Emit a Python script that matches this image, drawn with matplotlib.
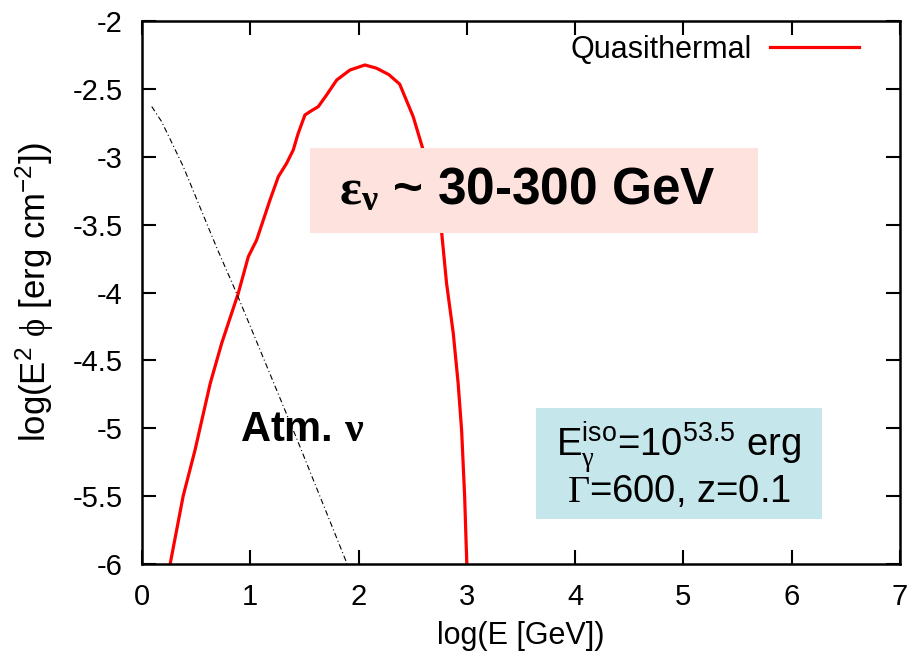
import matplotlib
matplotlib.use('Agg')
import matplotlib.pyplot as plt
from matplotlib.patches import Rectangle

plt.rcParams['font.family'] = ['Liberation Sans', 'DejaVu Sans']
plt.rcParams['mathtext.fontset'] = 'custom'
plt.rcParams['mathtext.rm'] = 'Liberation Sans'
plt.rcParams['mathtext.it'] = 'Liberation Sans:italic'
plt.rcParams['mathtext.bf'] = 'Liberation Sans:bold'
plt.rcParams['mathtext.sf'] = 'Liberation Serif'
plt.rcParams['mathtext.cal'] = 'Liberation Serif:bold'

# quasithermal neutrino spectrum
qt_logE = [0.26, 0.38, 0.49, 0.63, 0.736, 0.797, 0.889, 0.982, 1.059, 1.182, 1.259,
           1.336, 1.397, 1.443, 1.505, 1.567, 1.628, 1.705, 1.798, 1.921, 2.059,
           2.167, 2.28, 2.38, 2.505, 2.597, 2.767, 2.813, 2.875, 2.92, 2.952, 2.98, 3.0]
qt_flux = [-6.0, -5.5, -5.16, -4.67, -4.374, -4.227, -4.006, -3.736, -3.613, -3.319, -3.147,
           -3.048, -2.95, -2.827, -2.692, -2.66, -2.631, -2.545, -2.435, -2.361, -2.324,
           -2.348, -2.395, -2.465, -2.705, -2.95, -3.552, -3.932, -4.30, -4.669, -5.013, -5.5, -6.0]

# atmospheric neutrino background
atm_logE = [0.09, 0.182, 0.38, 0.69, 0.874, 1.428, 1.895]
atm_flux = [-2.63, -2.742, -3.07, -3.67, -4.006, -5.074, -6.0]

xticks = [0, 1, 2, 3, 4, 5, 6, 7]
yticks = [-2, -2.5, -3, -3.5, -4, -4.5, -5, -5.5, -6]

fig = plt.figure(figsize=(9.12, 6.54), dpi=100)
ax = fig.add_axes([0.1557, 0.1376, 0.831, 0.8303])

ax.plot(qt_logE, qt_flux, color='red', lw=2.3, label='Quasithermal', zorder=2,
        solid_joinstyle='round')
ax.plot(atm_logE, atm_flux, color='black', lw=0.8, dashes=(5, 2.5, 1, 2.5), zorder=2)

# annotation boxes
ax.add_patch(Rectangle((1.551, -3.562), 5.69 - 1.551, 3.562 - 2.935,
                       facecolor='#fde2de', edgecolor='none', zorder=3))
ax.add_patch(Rectangle((3.64, -5.669), 6.28 - 3.64, 5.669 - 4.851,
                       facecolor='#c5e6ea', edgecolor='none', zorder=3))

ax.text(3.56, -3.25, r'$\mathcal{\varepsilon_\nu}$ ~ 30-300 GeV', fontsize=37,
        fontweight='bold', ha='center', va='center', zorder=4)
ax.text(1.48, -5.01, r'Atm. $\mathcal{\nu}$', fontsize=30, fontweight='bold',
        ha='center', va='center', zorder=4)
ax.text(4.96, -5.27, 'E$_{\\mathsf{\\gamma}}^{\\mathrm{iso}}$=10$^{53.5}$ erg\n'
        '$\\mathsf{\\Gamma}$=600, z=0.1', fontsize=27.5, ha='center', va='center',
        multialignment='center', linespacing=0.9, zorder=4)

ax.set_xlim(0, 7)
ax.set_ylim(-6, -2)
ax.set_xticks(xticks)
ax.set_yticks(yticks)
ax.set_xticklabels([str(v) for v in xticks])
ax.set_yticklabels(['%g' % v for v in yticks])
ax.tick_params(direction='in', length=10, width=1.5, top=True, right=True,
               labelsize=21, pad=14)
for s in ax.spines.values():
    s.set_linewidth(1.8)

ax.set_xlabel('log(E [GeV])', fontsize=22, labelpad=7)
ax.set_ylabel(r'log(E$^2$ $\mathsf{\phi}$ [erg cm$^{-2}$])', fontsize=25, labelpad=12)

ax.legend(loc='center right', bbox_to_anchor=(0.962, 0.947), markerfirst=False,
          frameon=False, fontsize=22, handlelength=2.9, handletextpad=0.6,
          borderaxespad=0)

fig.savefig('out.png', dpi=100)
